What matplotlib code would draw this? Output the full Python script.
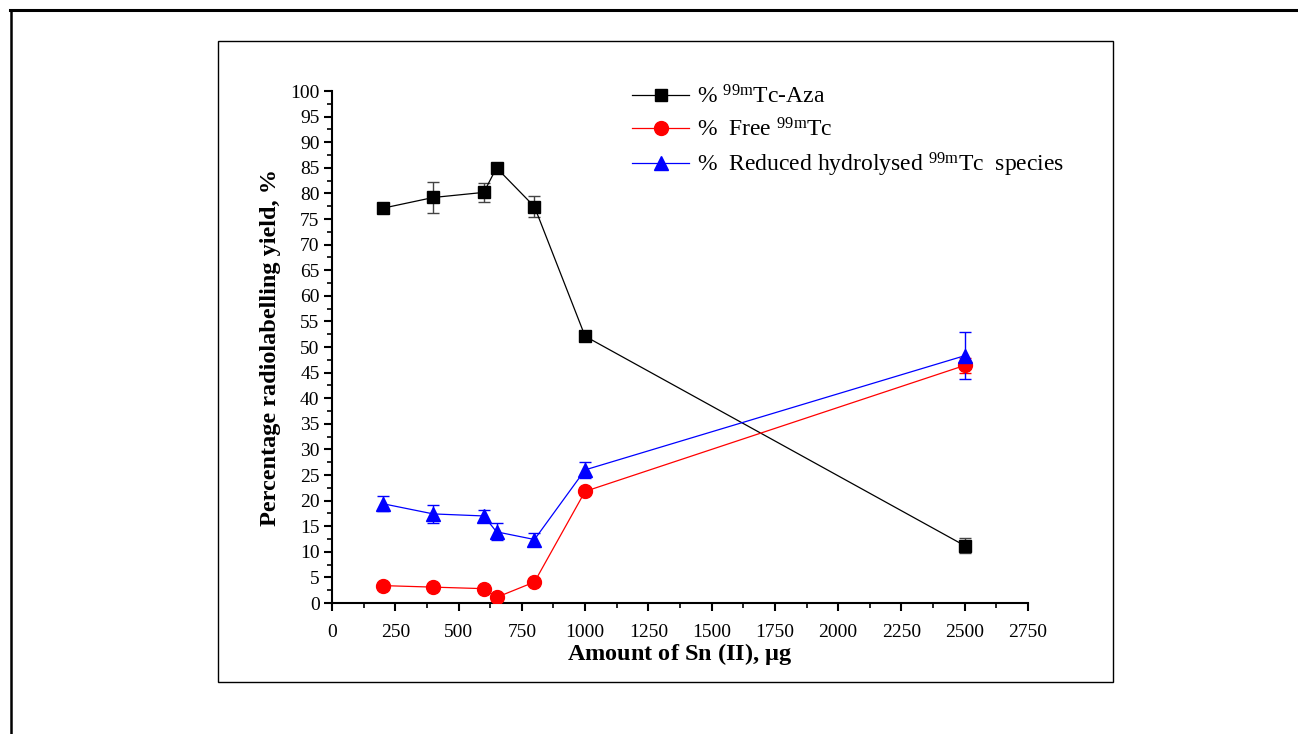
import matplotlib
matplotlib.use("Agg")
import matplotlib.pyplot as plt
from matplotlib.ticker import MultipleLocator
from matplotlib.lines import Line2D
from matplotlib.patches import Rectangle

plt.rcParams['font.family'] = ['Liberation Serif', 'DejaVu Serif']
plt.rcParams['mathtext.fontset'] = 'custom'
plt.rcParams['mathtext.rm'] = 'Liberation Serif'
plt.rcParams['mathtext.it'] = 'Liberation Serif:italic'
plt.rcParams['mathtext.bf'] = 'Liberation Serif:bold'

# Data
sn_amount = [200, 400, 600, 650, 800, 1000, 2500]
aza = [77.1, 79.2, 80.2, 85.0, 77.4, 52.1, 11.2]
aza_err = [0.5, 3.1, 1.8, 0.5, 2.1, 0.5, 1.45]
free_tc = [3.4, 3.1, 2.8, 1.1, 4.1, 21.8, 46.4]
free_err = [0.3, 0.3, 0.3, 0.3, 0.3, 0.3, 1.5]
reduced = [19.4, 17.4, 17.0, 13.9, 12.4, 26.0, 48.3]
reduced_err = [1.5, 1.8, 1.1, 1.65, 1.3, 1.6, 4.6]

labels = [r'% $^{\rm 99m}$Tc-Aza',
          r'%  Free $^{\rm 99m}$Tc',
          r'%  Reduced hydrolysed $^{\rm 99m}$Tc  species']
xlabel = r'Amount of Sn (II), $\mathbf{\mu}$g'
ylabel = 'Percentage radiolabelling yield, %'

W, H = 1298, 734
fig = plt.figure(figsize=(W / 100, H / 100), dpi=100)

# outer frame lines (top and left)
fig.add_artist(Line2D([10 / W, 1.0], [1 - 9.5 / H, 1 - 9.5 / H], color='black', lw=2.2,
                      transform=fig.transFigure))
fig.add_artist(Line2D([11 / W, 11 / W], [0, 1 - 9.5 / H], color='black', lw=1.8,
                      transform=fig.transFigure))
# inner box
fig.add_artist(Rectangle((217.5 / W, 1 - 681.5 / H), (1112.5 - 217.5) / W, (681.5 - 40.5) / H,
                         fill=False, edgecolor='black', lw=1.0, transform=fig.transFigure))

ax = fig.add_axes([332 / W, 1 - 603 / H, (1028 - 332) / W, (603 - 91) / H])

ax.errorbar(sn_amount, aza, yerr=aza_err, color='black', marker='s', markersize=9,
            lw=0.9, elinewidth=1.0, capsize=4.5, ecolor='#444444', label=labels[0], zorder=3)
ax.errorbar(sn_amount, free_tc, yerr=free_err, color='red', marker='o', markersize=10,
            lw=0.9, elinewidth=1.0, capsize=4.5, label=labels[1], zorder=3)
ax.errorbar(sn_amount, reduced, yerr=reduced_err, color='blue', marker='^', markersize=10.5,
            lw=0.9, elinewidth=1.0, capsize=4.5, label=labels[2], zorder=3)

ax.set_xlim(0, 2750)
ax.set_ylim(0, 100)
ax.xaxis.set_major_locator(MultipleLocator(250))
ax.xaxis.set_minor_locator(MultipleLocator(125))
ax.yaxis.set_major_locator(MultipleLocator(5))
ax.yaxis.set_minor_locator(MultipleLocator(2.5))
for s in ['top', 'right']:
    ax.spines[s].set_visible(False)
for s in ['left', 'bottom']:
    ax.spines[s].set_linewidth(1.5)
ax.tick_params(which='major', direction='out', length=6, width=1.5, labelsize=14, pad=3)
ax.tick_params(axis='x', which='major', pad=9)
ax.tick_params(which='minor', direction='out', length=3.5, width=1.2)

ax.set_xlabel(xlabel, fontsize=17.5, fontweight='bold', labelpad=0)
ax.set_ylabel(ylabel, fontsize=17.5, fontweight='bold')
ax.yaxis.set_label_coords(-51 / (1028 - 332), 0.5)

handles = [Line2D([], [], color='black', marker='s', markersize=9, lw=0.9),
           Line2D([], [], color='red', marker='o', markersize=10, lw=0.9),
           Line2D([], [], color='blue', marker='^', markersize=10.5, lw=0.9)]
leg = fig.legend(handles, labels, loc='upper left', bbox_to_anchor=(611 / W, 1 - 64 / H),
                 frameon=False, fontsize=17, handlelength=2.4, labelspacing=0.4,
                 handletextpad=0.35)

fig.savefig('out.png', dpi=100)
